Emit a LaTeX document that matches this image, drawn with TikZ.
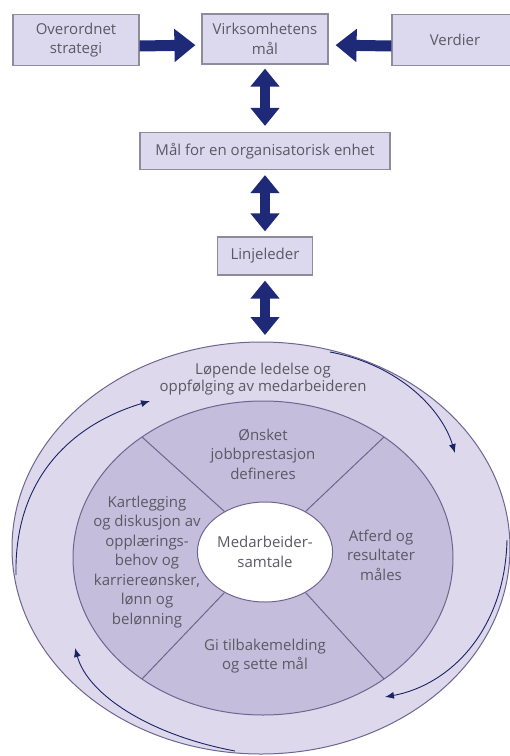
\documentclass[tikz,border=0pt]{standalone}
\usepackage{fontspec}
\setmainfont{Open Sans}
\usetikzlibrary{arrows.meta,shapes.geometric}

\definecolor{navy}{HTML}{1E2A78}
\definecolor{boxfill}{HTML}{DCD9EE}
\definecolor{boxline}{HTML}{8E8C9C}
\definecolor{ringfill}{HTML}{DDD8EC}
\definecolor{piefill}{HTML}{C5BDDC}
\definecolor{edgeline}{HTML}{6D6790}
\definecolor{txt}{HTML}{5A5965}

\tikzset{
  box/.style={draw=boxline, fill=boxfill, line width=1.2pt, align=center, inner sep=0pt, text=txt},
  bigarrow/.style={navy, line width=11pt, -{Triangle[width=32pt,length=21pt]}},
  bigdouble/.style={navy, line width=10pt, {Triangle[width=28pt,length=18pt]}-{Triangle[width=28pt,length=18pt]}},
  flow/.style={navy!85!black, line width=0.9pt, -{Latex[length=9pt,width=7pt]}},
  sector/.style={align=center, text=txt},
  rim/.style={draw=edgeline, line width=1pt},
}

\begin{document}
\begin{tikzpicture}[x=1pt, y=-1pt, font=\fontsize{15}{19.5}\selectfont]
  \useasboundingbox (0,0) rectangle (510,756);

  % top row
  \node[box, minimum width=126pt, minimum height=51pt] (strat) at (76,40) {Overordnet\\strategi};
  \node[box, minimum width=126pt, minimum height=50pt] (vmaal) at (265,39) {Virksomhetens\\mål};
  \node[box, minimum width=126pt, minimum height=51pt] (verdi) at (455,40) {Verdier};
  \node[box, minimum width=250pt, minimum height=37pt] (omaal) at (265,151) {Mål for en organisatorisk enhet};
  \node[box, minimum width=95pt, minimum height=38pt] (linje) at (265,256) {Linjeleder};
  \coordinate (top) at (265,343);

  \draw[bigarrow, shorten >=6pt] ([yshift=-6pt]strat.east) -- ([yshift=-6pt]vmaal.west);
  \draw[bigarrow, shorten >=7pt] ([yshift=-6pt]verdi.west) -- ([yshift=-6pt]vmaal.east);
  \draw[bigdouble, shorten <=4pt, shorten >=6pt] (vmaal.south) -- (omaal.north);
  \draw[bigdouble, shorten <=5pt, shorten >=5pt] (omaal.south) -- (linje.north);
  \draw[bigdouble, shorten <=5pt, shorten >=8pt] (linje.south) -- (top);

  % the wheel
  \draw[rim, fill=ringfill] (261,548) ellipse [x radius=249, y radius=206];
  \draw[rim, fill=piefill] (263,558) ellipse [x radius=190, y radius=157];
  \node[rim, fill=white, ellipse, minimum width=126pt, minimum height=100pt, inner sep=0pt,
        align=center, text=txt] (med) at (265,552) {Medarbeider-\\samtale};
  \draw[rim] (med.135) -- (142,437);
  \draw[rim] (med.45)  -- (384,437);
  \draw[rim] (med.225) -- (142,679);
  \draw[rim] (med.315) -- (384,679);

  \draw[flow] (16,575) .. controls (14,480) and (70,425) .. (150,401);
  \draw[flow] (235,751) .. controls (150,735) and (88,695) .. (75,648);
  \draw[flow] (330,352) .. controls (400,365) and (442,410) .. (455,453);
  \draw[flow] (507,540) .. controls (505,630) and (450,685) .. (385,697);

  \node[sector, font=\fontsize{15}{17}\selectfont] (lop) at (263,379) {Løpende ledelse og\\oppfølging av medarbeideren};
  \node[sector] (onsk) at (263,454) {Ønsket\\jobbprestasjon\\defineres};
  \node[sector] (kart) at (147,562) {Kartlegging\\og diskusjon av\\opplærings-\\behov og\\karriereønsker,\\lønn og\\belønning};
  \node[sector] (atf) at (381,555) {Atferd og\\resultater\\måles};
  \node[sector] (gi) at (265,656) {Gi tilbakemelding\\og sette mål};
\end{tikzpicture}
\end{document}
